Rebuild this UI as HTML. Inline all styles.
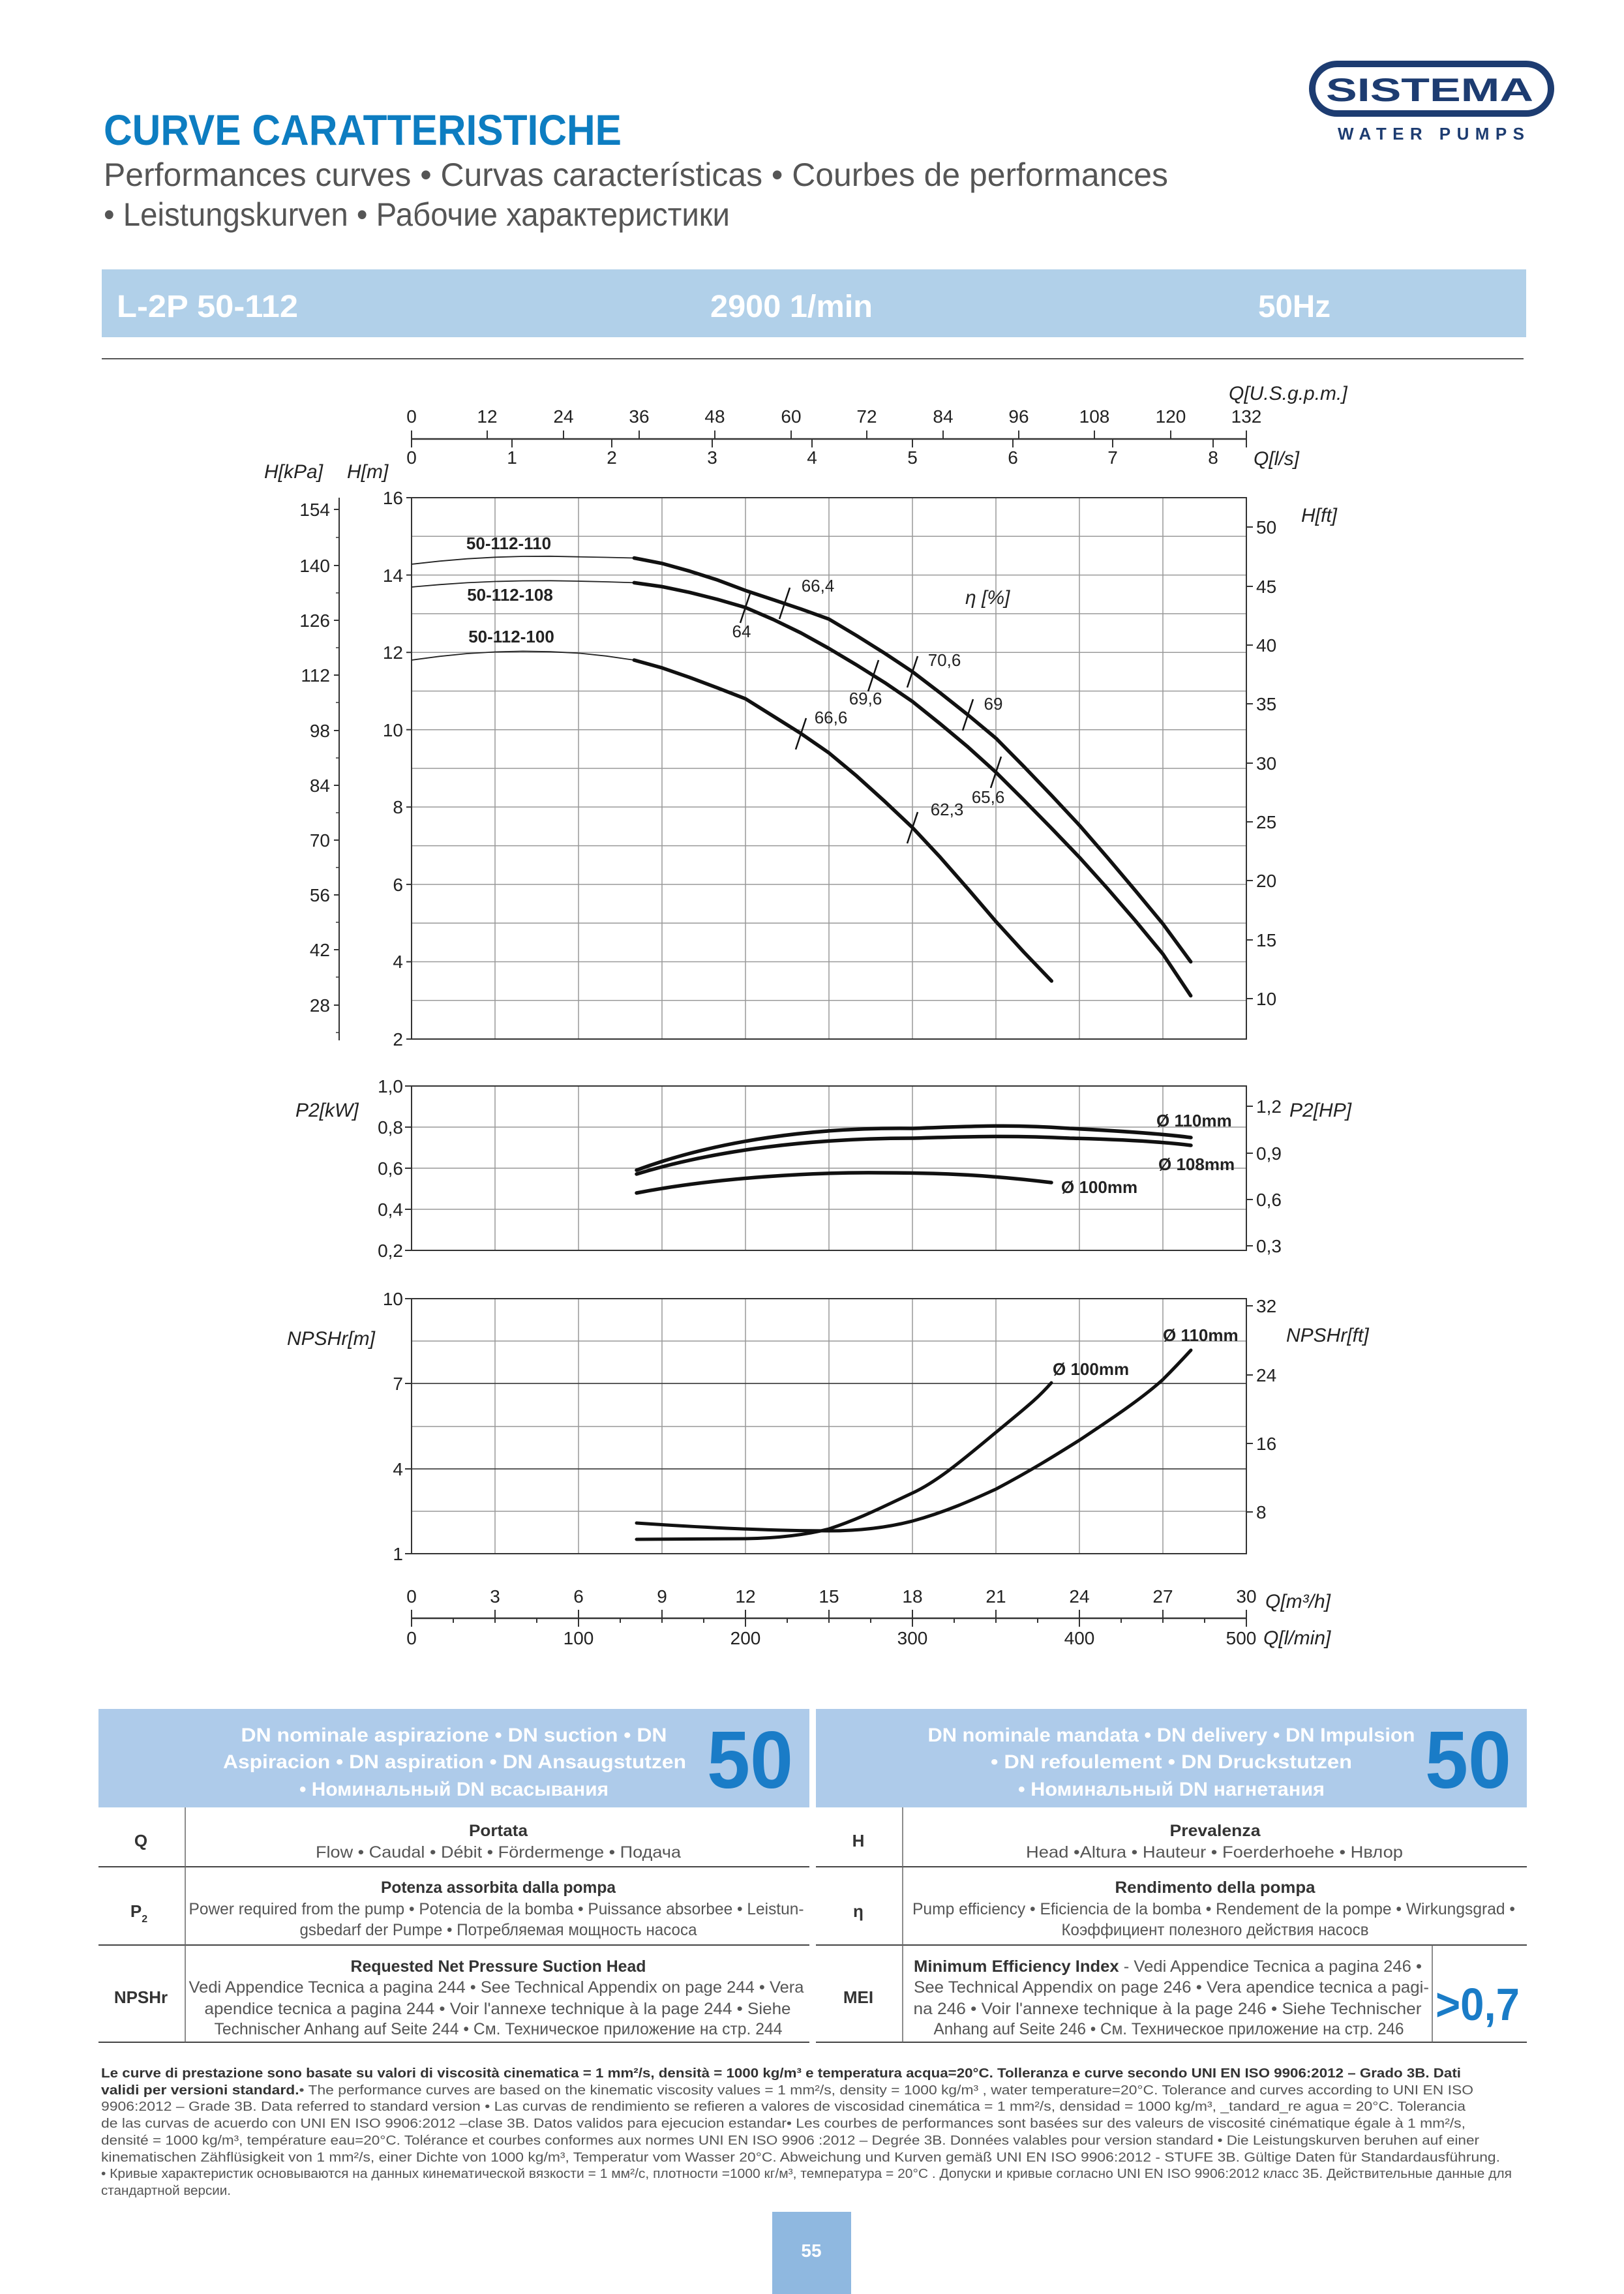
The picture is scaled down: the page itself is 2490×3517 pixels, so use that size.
<!DOCTYPE html>
<html><head><meta charset="utf-8"><style>
html,body{margin:0;padding:0;background:#fff;}
svg{display:block;}
</style></head><body>
<svg width="2490" height="3517" viewBox="0 0 2490 3517" xmlns="http://www.w3.org/2000/svg" font-family="'Liberation Sans', 'Noto Sans CJK SC', sans-serif">
<rect width="2490" height="3517" fill="#fff"/>
<!-- header -->
<text x="159" y="222" font-size="66" font-weight="bold" fill="#0d7dc1" textLength="794" lengthAdjust="spacingAndGlyphs">CURVE CARATTERISTICHE</text>
<text x="159" y="285" font-size="50" fill="#555" textLength="1632" lengthAdjust="spacingAndGlyphs">Performances curves • Curvas características • Courbes de performances</text>
<text x="159" y="346" font-size="50" fill="#555" textLength="960" lengthAdjust="spacingAndGlyphs">• Leistungskurven • Рабочие характеристики</text>
<rect x="2012" y="98" width="366" height="76" rx="38" fill="#fff" stroke="#1d3c71" stroke-width="10"/>
<text x="2033" y="155" font-size="50" font-weight="bold" fill="#1d3c71" textLength="318" lengthAdjust="spacingAndGlyphs">SISTEMA</text>
<text x="2051" y="214" font-size="26" font-weight="bold" fill="#1d3c71" textLength="286" lengthAdjust="spacing">WATER PUMPS</text>
<rect x="156" y="413" width="2184" height="104" fill="#b1d0e9"/>
<text x="179" y="486" font-size="48" font-weight="bold" fill="#fff" textLength="278" lengthAdjust="spacingAndGlyphs">L-2P 50-112</text>
<text x="1089" y="486" font-size="48" font-weight="bold" fill="#fff" textLength="249" lengthAdjust="spacingAndGlyphs">2900 1/min</text>
<text x="1929" y="486" font-size="48" font-weight="bold" fill="#fff" textLength="111" lengthAdjust="spacingAndGlyphs">50Hz</text>
<line x1="156" y1="550" x2="2336" y2="550" stroke="#555" stroke-width="2"/>

<!-- ===== MAIN H PLOT ===== -->
<g stroke="#999" stroke-width="1.5">
<line x1="759" y1="763" x2="759" y2="1593"/><line x1="887" y1="763" x2="887" y2="1593"/><line x1="1015" y1="763" x2="1015" y2="1593"/><line x1="1143" y1="763" x2="1143" y2="1593"/><line x1="1271" y1="763" x2="1271" y2="1593"/><line x1="1399" y1="763" x2="1399" y2="1593"/><line x1="1527" y1="763" x2="1527" y2="1593"/><line x1="1655" y1="763" x2="1655" y2="1593"/><line x1="1783" y1="763" x2="1783" y2="1593"/>
<line x1="631" y1="822.3" x2="1911" y2="822.3"/><line x1="631" y1="881.6" x2="1911" y2="881.6"/><line x1="631" y1="940.9" x2="1911" y2="940.9"/><line x1="631" y1="1000.2" x2="1911" y2="1000.2"/><line x1="631" y1="1059.5" x2="1911" y2="1059.5"/><line x1="631" y1="1118.7" x2="1911" y2="1118.7"/><line x1="631" y1="1178" x2="1911" y2="1178"/><line x1="631" y1="1237.3" x2="1911" y2="1237.3"/><line x1="631" y1="1296.6" x2="1911" y2="1296.6"/><line x1="631" y1="1355.9" x2="1911" y2="1355.9"/><line x1="631" y1="1415.2" x2="1911" y2="1415.2"/><line x1="631" y1="1474.5" x2="1911" y2="1474.5"/><line x1="631" y1="1533.8" x2="1911" y2="1533.8"/>
</g>
<rect x="631" y="763" width="1280" height="830" fill="none" stroke="#333" stroke-width="2"/>
<g stroke="#333" stroke-width="2">
<line x1="623" y1="763" x2="631" y2="763"/><line x1="623" y1="881.6" x2="631" y2="881.6"/><line x1="623" y1="1000.2" x2="631" y2="1000.2"/><line x1="623" y1="1118.7" x2="631" y2="1118.7"/><line x1="623" y1="1237.3" x2="631" y2="1237.3"/><line x1="623" y1="1355.9" x2="631" y2="1355.9"/><line x1="623" y1="1474.5" x2="631" y2="1474.5"/><line x1="623" y1="1593" x2="631" y2="1593"/>
</g>
<g font-size="28" fill="#222" text-anchor="end">
<text x="618" y="773">16</text><text x="618" y="892">14</text><text x="618" y="1010">12</text><text x="618" y="1129">10</text><text x="618" y="1247">8</text><text x="618" y="1366">6</text><text x="618" y="1484">4</text><text x="618" y="1603">2</text>
</g>
<line x1="520" y1="763" x2="520" y2="1595" stroke="#333" stroke-width="2"/>
<g stroke="#333" stroke-width="2">
<line x1="512" y1="781" x2="520" y2="781"/><line x1="512" y1="867" x2="520" y2="867"/><line x1="512" y1="951" x2="520" y2="951"/><line x1="512" y1="1035" x2="520" y2="1035"/><line x1="512" y1="1120" x2="520" y2="1120"/><line x1="512" y1="1204" x2="520" y2="1204"/><line x1="512" y1="1288" x2="520" y2="1288"/><line x1="512" y1="1372" x2="520" y2="1372"/><line x1="512" y1="1456" x2="520" y2="1456"/><line x1="512" y1="1541" x2="520" y2="1541"/>
</g>
<g stroke="#333" stroke-width="1.5">
<line x1="515" y1="824" x2="520" y2="824"/><line x1="515" y1="909" x2="520" y2="909"/><line x1="515" y1="993" x2="520" y2="993"/><line x1="515" y1="1077" x2="520" y2="1077"/><line x1="515" y1="1162" x2="520" y2="1162"/><line x1="515" y1="1246" x2="520" y2="1246"/><line x1="515" y1="1330" x2="520" y2="1330"/><line x1="515" y1="1414" x2="520" y2="1414"/><line x1="515" y1="1498" x2="520" y2="1498"/><line x1="515" y1="1583" x2="520" y2="1583"/>
</g>
<g font-size="28" fill="#222" text-anchor="end">
<text x="506" y="791">154</text><text x="506" y="877">140</text><text x="506" y="961">126</text><text x="506" y="1045">112</text><text x="506" y="1130">98</text><text x="506" y="1214">84</text><text x="506" y="1298">70</text><text x="506" y="1382">56</text><text x="506" y="1466">42</text><text x="506" y="1551">28</text>
</g>
<g stroke="#333" stroke-width="2">
<line x1="1911" y1="808" x2="1921" y2="808"/><line x1="1911" y1="899" x2="1921" y2="899"/><line x1="1911" y1="989" x2="1921" y2="989"/><line x1="1911" y1="1079" x2="1921" y2="1079"/><line x1="1911" y1="1170" x2="1921" y2="1170"/><line x1="1911" y1="1260" x2="1921" y2="1260"/><line x1="1911" y1="1350" x2="1921" y2="1350"/><line x1="1911" y1="1441" x2="1921" y2="1441"/><line x1="1911" y1="1531" x2="1921" y2="1531"/>
</g>
<g font-size="28" fill="#222">
<text x="1926" y="818">50</text><text x="1926" y="909">45</text><text x="1926" y="999">40</text><text x="1926" y="1089">35</text><text x="1926" y="1180">30</text><text x="1926" y="1270">25</text><text x="1926" y="1360">20</text><text x="1926" y="1451">15</text><text x="1926" y="1541">10</text>
</g>
<g font-size="30" font-style="italic" fill="#222">
<text x="1995" y="800">H[ft]</text>
<text x="405" y="733">H[kPa]</text>
<text x="532" y="733">H[m]</text>
<text x="1884" y="613">Q[U.S.g.p.m.]</text>
<text x="1922" y="713">Q[l/s]</text>
</g>
<line x1="631" y1="673" x2="1911" y2="673" stroke="#333" stroke-width="2.5"/>
<g stroke="#333" stroke-width="2">
<line x1="631" y1="660" x2="631" y2="686"/><line x1="747" y1="660" x2="747" y2="673"/><line x1="864" y1="660" x2="864" y2="673"/><line x1="980" y1="660" x2="980" y2="673"/><line x1="1096" y1="660" x2="1096" y2="673"/><line x1="1213" y1="660" x2="1213" y2="673"/><line x1="1329" y1="660" x2="1329" y2="673"/><line x1="1446" y1="660" x2="1446" y2="673"/><line x1="1562" y1="660" x2="1562" y2="673"/><line x1="1678" y1="660" x2="1678" y2="673"/><line x1="1795" y1="660" x2="1795" y2="673"/><line x1="1911" y1="660" x2="1911" y2="686"/>
<line x1="785" y1="673" x2="785" y2="686"/><line x1="938" y1="673" x2="938" y2="686"/><line x1="1092" y1="673" x2="1092" y2="686"/><line x1="1245" y1="673" x2="1245" y2="686"/><line x1="1399" y1="673" x2="1399" y2="686"/><line x1="1553" y1="673" x2="1553" y2="686"/><line x1="1706" y1="673" x2="1706" y2="686"/><line x1="1860" y1="673" x2="1860" y2="686"/>
</g>
<g font-size="28" fill="#222" text-anchor="middle">
<text x="631" y="648">0</text><text x="747" y="648">12</text><text x="864" y="648">24</text><text x="980" y="648">36</text><text x="1096" y="648">48</text><text x="1213" y="648">60</text><text x="1329" y="648">72</text><text x="1446" y="648">84</text><text x="1562" y="648">96</text><text x="1678" y="648">108</text><text x="1795" y="648">120</text><text x="1911" y="648">132</text>
<text x="631" y="711">0</text><text x="785" y="711">1</text><text x="938" y="711">2</text><text x="1092" y="711">3</text><text x="1245" y="711">4</text><text x="1399" y="711">5</text><text x="1553" y="711">6</text><text x="1706" y="711">7</text><text x="1860" y="711">8</text>
</g>
<!-- H curves thin -->
<g fill="none" stroke="#222" stroke-width="1.8" stroke-linejoin="round">
<polyline points="631,865 673.7,860.3 716.3,856.7 759,854.3 801.7,853 844.3,852.8 887,853.7 929.7,854.5 972.3,855.5"/>
<polyline points="631,900 673.7,896.3 716.3,893.4 759,891.5 801.7,890.5 844.3,890.3 887,891 929.7,892 972.3,893.4"/>
<polyline points="631,1012 673.7,1006.3 716.3,1002 759,999.5 801.7,998.4 844.3,999.2 887,1001.3 929.7,1005.8 972.3,1012"/>
</g>
<g fill="none" stroke="#111" stroke-width="5.5" stroke-linecap="round" stroke-linejoin="round">
<polyline points="972.3,855.5 1015,863.8 1057.7,875.7 1100.3,889.3 1143,905.3 1185.7,919.5 1228.3,933.8 1271,949.2 1313.7,974.7 1356.3,1001.4 1399,1029.8 1441.7,1062.4 1484.3,1096.2 1527,1131.8 1569.7,1175.1 1612.3,1219.5 1655,1265.2 1697.7,1314.4 1740.3,1364.8 1783,1416.4 1825.7,1474.5"/>
<polyline points="972.3,893.4 1015,899.4 1057.7,908.3 1100.3,919 1143,931.4 1185.7,949.8 1228.3,970.5 1271,994.2 1313.7,1019.7 1356.3,1046.4 1399,1075.5 1441.7,1109.8 1484.3,1145.4 1527,1184 1569.7,1226.6 1612.3,1269.9 1655,1314.4 1697.7,1361.8 1740.3,1411 1783,1462.6 1825.7,1526.6"/>
<polyline points="972.3,1012 1015,1023.9 1057.7,1038.7 1100.3,1054.7 1143,1071.3 1185.7,1098 1228.3,1124.7 1271,1154.3 1313.7,1189.9 1356.3,1228.4 1399,1268.7 1441.7,1314.4 1484.3,1363 1527,1412.8 1569.7,1459.6 1612.3,1504"/>
</g>
<g stroke="#111" stroke-width="2.5">
<line x1="1135" y1="955" x2="1151" y2="907"/>
<line x1="1195" y1="949" x2="1211" y2="901"/>
<line x1="1331" y1="1060" x2="1347" y2="1012"/>
<line x1="1391" y1="1054" x2="1407" y2="1006"/>
<line x1="1476" y1="1120" x2="1492" y2="1072"/>
<line x1="1519" y1="1208" x2="1535" y2="1160"/>
<line x1="1220" y1="1149" x2="1236" y2="1101"/>
<line x1="1391" y1="1293" x2="1407" y2="1245"/>
</g>
<g font-size="26" fill="#222" text-anchor="middle">
<text x="1254" y="907">66,4</text><text x="1137" y="977">64</text><text x="1448" y="1021">70,6</text><text x="1327" y="1080">69,6</text><text x="1523" y="1088">69</text><text x="1274" y="1109">66,6</text><text x="1515" y="1231">65,6</text><text x="1452" y="1250">62,3</text>
</g>
<text x="1480" y="926" font-size="30" font-style="italic" fill="#222">η [%]</text>
<g font-size="26" font-weight="bold" fill="#222" text-anchor="middle">
<text x="780" y="842">50-112-110</text><text x="782" y="921">50-112-108</text><text x="784" y="985">50-112-100</text>
</g>

<!-- ===== P2 PLOT ===== -->
<g stroke="#999" stroke-width="1.5">
<line x1="759" y1="1665" x2="759" y2="1917"/><line x1="887" y1="1665" x2="887" y2="1917"/><line x1="1015" y1="1665" x2="1015" y2="1917"/><line x1="1143" y1="1665" x2="1143" y2="1917"/><line x1="1271" y1="1665" x2="1271" y2="1917"/><line x1="1399" y1="1665" x2="1399" y2="1917"/><line x1="1527" y1="1665" x2="1527" y2="1917"/><line x1="1655" y1="1665" x2="1655" y2="1917"/><line x1="1783" y1="1665" x2="1783" y2="1917"/>
<line x1="631" y1="1728" x2="1911" y2="1728"/><line x1="631" y1="1791" x2="1911" y2="1791"/><line x1="631" y1="1854" x2="1911" y2="1854"/>
</g>
<rect x="631" y="1665" width="1280" height="252" fill="none" stroke="#333" stroke-width="2"/>
<g stroke="#333" stroke-width="2">
<line x1="621" y1="1665" x2="631" y2="1665"/><line x1="621" y1="1728" x2="631" y2="1728"/><line x1="621" y1="1791" x2="631" y2="1791"/><line x1="621" y1="1854" x2="631" y2="1854"/><line x1="621" y1="1917" x2="631" y2="1917"/>
<line x1="1911" y1="1696" x2="1921" y2="1696"/><line x1="1911" y1="1768" x2="1921" y2="1768"/><line x1="1911" y1="1839" x2="1921" y2="1839"/><line x1="1911" y1="1910" x2="1921" y2="1910"/>
</g>
<g font-size="28" fill="#222" text-anchor="end">
<text x="618" y="1675">1,0</text><text x="618" y="1738">0,8</text><text x="618" y="1801">0,6</text><text x="618" y="1864">0,4</text><text x="618" y="1927">0,2</text>
</g>
<g font-size="28" fill="#222">
<text x="1926" y="1706">1,2</text><text x="1926" y="1778">0,9</text><text x="1926" y="1849">0,6</text><text x="1926" y="1920">0,3</text>
</g>
<g font-size="30" font-style="italic" fill="#222">
<text x="453" y="1712">P2[kW]</text><text x="1977" y="1712">P2[HP]</text>
</g>
<g fill="none" stroke="#111" stroke-width="5.5" stroke-linecap="round">
<path d="M976,1794 C1100,1748 1250,1728 1400,1730 C1500,1726 1560,1724 1640,1730 C1720,1734 1780,1738 1826,1744"/>
<path d="M976,1800 C1100,1762 1250,1745 1400,1745 C1500,1742 1560,1741 1640,1745 C1720,1747 1780,1750 1826,1756"/>
<path d="M976,1829 C1100,1805 1250,1797 1350,1798 C1450,1798 1520,1802 1612,1813"/>
</g>
<g font-size="26" font-weight="bold" fill="#222">
<text x="1773" y="1727">Ø 110mm</text><text x="1776" y="1794">Ø 108mm</text><text x="1627" y="1829">Ø 100mm</text>
</g>

<!-- ===== NPSH PLOT ===== -->
<g stroke="#999" stroke-width="1.5">
<line x1="759" y1="1991" x2="759" y2="2382"/><line x1="887" y1="1991" x2="887" y2="2382"/><line x1="1015" y1="1991" x2="1015" y2="2382"/><line x1="1143" y1="1991" x2="1143" y2="2382"/><line x1="1271" y1="1991" x2="1271" y2="2382"/><line x1="1399" y1="1991" x2="1399" y2="2382"/><line x1="1527" y1="1991" x2="1527" y2="2382"/><line x1="1655" y1="1991" x2="1655" y2="2382"/><line x1="1783" y1="1991" x2="1783" y2="2382"/>
<line x1="631" y1="2056" x2="1911" y2="2056"/><line x1="631" y1="2187" x2="1911" y2="2187"/><line x1="631" y1="2317" x2="1911" y2="2317"/>
</g>
<g stroke="#444" stroke-width="1.8">
<line x1="631" y1="2121" x2="1911" y2="2121"/><line x1="631" y1="2252" x2="1911" y2="2252"/>
</g>
<rect x="631" y="1991" width="1280" height="391" fill="none" stroke="#333" stroke-width="2"/>
<g stroke="#333" stroke-width="2">
<line x1="621" y1="1991" x2="631" y2="1991"/><line x1="621" y1="2121" x2="631" y2="2121"/><line x1="621" y1="2252" x2="631" y2="2252"/><line x1="621" y1="2382" x2="631" y2="2382"/>
<line x1="1911" y1="2002" x2="1921" y2="2002"/><line x1="1911" y1="2108" x2="1921" y2="2108"/><line x1="1911" y1="2213" x2="1921" y2="2213"/><line x1="1911" y1="2318" x2="1921" y2="2318"/>
</g>
<g font-size="28" fill="#222" text-anchor="end">
<text x="618" y="2001">10</text><text x="618" y="2131">7</text><text x="618" y="2262">4</text><text x="618" y="2392">1</text>
</g>
<g font-size="28" fill="#222">
<text x="1926" y="2012">32</text><text x="1926" y="2118">24</text><text x="1926" y="2223">16</text><text x="1926" y="2328">8</text>
</g>
<g font-size="30" font-style="italic" fill="#222">
<text x="440" y="2062">NPSHr[m]</text><text x="1972" y="2057">NPSHr[ft]</text>
</g>
<g fill="none" stroke="#111" stroke-width="5" stroke-linecap="round">
<path d="M976,2360 L1143,2359 C1200,2358 1240,2352 1271,2344 C1310,2333 1340,2318 1370,2300 C1420,2265 1480,2215 1527,2165 C1560,2130 1590,2145 1612,2120" stroke="none"/>
<path d="M976,2360 L1143,2359 C1200,2358 1240,2352 1271,2344 C1320,2328 1360,2307 1399,2289 S1480,2235 1527,2196 S1590,2145 1612,2120"/>
<path d="M976,2335 C1080,2342 1180,2347 1271,2347 C1320,2347 1360,2342 1399,2332 C1450,2318 1490,2300 1527,2283 C1580,2255 1620,2230 1655,2208 C1700,2178 1750,2145 1783,2115 C1800,2098 1815,2082 1826,2070"/>
</g>
<g font-size="26" font-weight="bold" fill="#222">
<text x="1783" y="2056">Ø 110mm</text><text x="1614" y="2108">Ø 100mm</text>
</g>

<!-- bottom axis -->
<line x1="631" y1="2481" x2="1911" y2="2481" stroke="#333" stroke-width="2.5"/>
<g stroke="#333" stroke-width="2">
<line x1="631" y1="2468" x2="631" y2="2494"/><line x1="759" y1="2468" x2="759" y2="2481"/><line x1="887" y1="2468" x2="887" y2="2494"/><line x1="1015" y1="2468" x2="1015" y2="2481"/><line x1="1143" y1="2468" x2="1143" y2="2494"/><line x1="1271" y1="2468" x2="1271" y2="2481"/><line x1="1399" y1="2468" x2="1399" y2="2494"/><line x1="1527" y1="2468" x2="1527" y2="2481"/><line x1="1655" y1="2468" x2="1655" y2="2494"/><line x1="1783" y1="2468" x2="1783" y2="2481"/><line x1="1911" y1="2468" x2="1911" y2="2494"/>
<line x1="695" y1="2481" x2="695" y2="2488"/><line x1="759" y1="2481" x2="759" y2="2488"/><line x1="823" y1="2481" x2="823" y2="2488"/><line x1="951" y1="2481" x2="951" y2="2488"/><line x1="1015" y1="2481" x2="1015" y2="2488"/><line x1="1079" y1="2481" x2="1079" y2="2488"/><line x1="1207" y1="2481" x2="1207" y2="2488"/><line x1="1271" y1="2481" x2="1271" y2="2488"/><line x1="1335" y1="2481" x2="1335" y2="2488"/><line x1="1463" y1="2481" x2="1463" y2="2488"/><line x1="1527" y1="2481" x2="1527" y2="2488"/><line x1="1591" y1="2481" x2="1591" y2="2488"/><line x1="1719" y1="2481" x2="1719" y2="2488"/><line x1="1783" y1="2481" x2="1783" y2="2488"/><line x1="1847" y1="2481" x2="1847" y2="2488"/>
</g>
<g font-size="28" fill="#222" text-anchor="middle">
<text x="631" y="2457">0</text><text x="759" y="2457">3</text><text x="887" y="2457">6</text><text x="1015" y="2457">9</text><text x="1143" y="2457">12</text><text x="1271" y="2457">15</text><text x="1399" y="2457">18</text><text x="1527" y="2457">21</text><text x="1655" y="2457">24</text><text x="1783" y="2457">27</text><text x="1911" y="2457">30</text>
<text x="631" y="2521">0</text><text x="887" y="2521">100</text><text x="1143" y="2521">200</text><text x="1399" y="2521">300</text><text x="1655" y="2521">400</text><text x="1903" y="2521">500</text>
</g>
<g font-size="30" font-style="italic" fill="#222">
<text x="1940" y="2465">Q[m³/h]</text><text x="1937" y="2521">Q[l/min]</text>
</g>

<!-- ===== TABLE ===== -->
<rect x="151" y="2620" width="1090" height="151" fill="#aecbea"/>
<rect x="1251" y="2620" width="1090" height="151" fill="#aecbea"/>
<g font-size="30" font-weight="bold" fill="#fff" text-anchor="middle">
<text x="696" y="2670" textLength="653" lengthAdjust="spacingAndGlyphs">DN nominale aspirazione • DN suction • DN</text>
<text x="697" y="2711" textLength="710" lengthAdjust="spacingAndGlyphs">Aspiracion • DN aspiration • DN Ansaugstutzen</text>
<text x="696" y="2753" textLength="474" lengthAdjust="spacingAndGlyphs">• Номинальный DN всасывания</text>
<text x="1796" y="2670" textLength="747" lengthAdjust="spacingAndGlyphs">DN nominale mandata • DN delivery • DN Impulsion</text>
<text x="1796" y="2711" textLength="554" lengthAdjust="spacingAndGlyphs">• DN refoulement • DN Druckstutzen</text>
<text x="1796" y="2753" textLength="470" lengthAdjust="spacingAndGlyphs">• Номинальный DN нагнетания</text>
</g>
<text x="1084" y="2741" font-size="124" font-weight="bold" fill="#1a7cc7" textLength="132" lengthAdjust="spacingAndGlyphs">50</text>
<text x="2185" y="2741" font-size="124" font-weight="bold" fill="#1a7cc7" textLength="132" lengthAdjust="spacingAndGlyphs">50</text>
<g stroke="#444" stroke-width="2">
<line x1="151" y1="2862" x2="1241" y2="2862"/><line x1="151" y1="2982" x2="1241" y2="2982"/><line x1="151" y1="3131" x2="1241" y2="3131"/>
<line x1="1251" y1="2862" x2="2341" y2="2862"/><line x1="1251" y1="2982" x2="2341" y2="2982"/><line x1="1251" y1="3131" x2="2341" y2="3131"/>
</g>
<g stroke="#666" stroke-width="1.5">
<line x1="284" y1="2771" x2="284" y2="3131"/><line x1="1384" y1="2771" x2="1384" y2="3131"/><line x1="2196" y1="2982" x2="2196" y2="3131"/>
</g>
<g font-size="26" font-weight="bold" fill="#333" text-anchor="middle">
<text x="216" y="2831">Q</text><text x="1316" y="2831">H</text>
<text x="213" y="2939">P<tspan font-size="16" dy="8">2</tspan></text><text x="1316" y="2939">η</text>
<text x="216" y="3071">NPSHr</text><text x="1316" y="3071">MEI</text>
</g>
<g font-size="25" font-weight="bold" fill="#333" text-anchor="middle">
<text x="764" y="2815" textLength="90" lengthAdjust="spacingAndGlyphs">Portata</text>
<text x="1863" y="2815" textLength="139" lengthAdjust="spacingAndGlyphs">Prevalenza</text>
<text x="764" y="2902" textLength="360" lengthAdjust="spacingAndGlyphs">Potenza assorbita dalla pompa</text>
<text x="1863" y="2902" textLength="307" lengthAdjust="spacingAndGlyphs">Rendimento della pompa</text>
<text x="764" y="3023" textLength="453" lengthAdjust="spacingAndGlyphs">Requested Net Pressure Suction Head</text>
</g>
<g font-size="25" fill="#555" text-anchor="middle">
<text x="764" y="2848" textLength="560" lengthAdjust="spacingAndGlyphs">Flow • Caudal • Débit • Fördermenge • Подача</text>
<text x="1862" y="2848" textLength="578" lengthAdjust="spacingAndGlyphs">Head •Altura • Hauteur • Foerderhoehe • Нвлор</text>
<text x="761" y="2935" textLength="943" lengthAdjust="spacingAndGlyphs">Power required from the pump • Potencia de la bomba • Puissance absorbee • Leistun-</text>
<text x="764" y="2967" textLength="609" lengthAdjust="spacingAndGlyphs">gsbedarf der Pumpe • Потребляемая мощность насоса</text>
<text x="1861" y="2935" textLength="924" lengthAdjust="spacingAndGlyphs">Pump efficiency • Eficiencia de la bomba • Rendement de la pompe • Wirkungsgrad •</text>
<text x="1863" y="2967" textLength="471" lengthAdjust="spacingAndGlyphs">Коэффициент полезного действия насосв</text>
<text x="761" y="3055" textLength="943" lengthAdjust="spacingAndGlyphs">Vedi Appendice Tecnica a pagina 244 • See Technical Appendix on page 244 • Vera</text>
<text x="763" y="3088" textLength="899" lengthAdjust="spacingAndGlyphs">apendice tecnica a pagina  244 • Voir l'annexe technique à la page  244 • Siehe</text>
<text x="764" y="3119" textLength="871" lengthAdjust="spacingAndGlyphs">Technischer Anhang auf Seite  244 • См. Техническое приложение на стр. 244</text>
<text x="1796" y="3055" textLength="790" lengthAdjust="spacingAndGlyphs">See Technical Appendix on page 246 • Vera apendice tecnica a pagi-</text>
<text x="1790" y="3088" textLength="779" lengthAdjust="spacingAndGlyphs">na 246 • Voir l'annexe technique à la page 246 • Siehe Technischer</text>
<text x="1792" y="3119" textLength="721" lengthAdjust="spacingAndGlyphs">Anhang auf Seite 246 • См. Техническое приложение на стр. 246</text>
</g>
<text x="1401" y="3023" font-size="25" fill="#555" textLength="779" lengthAdjust="spacingAndGlyphs"><tspan font-weight="bold" fill="#333">Minimum Efficiency Index</tspan> - Vedi Appendice Tecnica a pagina 246 •</text>
<text x="2201" y="3097" font-size="70" font-weight="bold" fill="#1a7cc7" textLength="129" lengthAdjust="spacingAndGlyphs">&gt;0,7</text>

<!-- footnote -->
<g font-size="20" fill="#555">
<text x="155" y="3185" font-weight="bold" fill="#333" textLength="2085" lengthAdjust="spacingAndGlyphs">Le curve di prestazione sono basate su valori di viscosità cinematica = 1 mm²/s,  densità = 1000 kg/m³ e temperatura acqua=20°C. Tolleranza e curve secondo UNI EN ISO 9906:2012 – Grado 3B. Dati</text>
<text x="155" y="3211" textLength="2104" lengthAdjust="spacingAndGlyphs"><tspan font-weight="bold" fill="#333">validi per versioni standard.</tspan>• The performance curves are based on the kinematic viscosity values = 1 mm²/s, density = 1000 kg/m³ , water temperature=20°C. Tolerance and curves according to UNI EN ISO</text>
<text x="155" y="3236" textLength="2092" lengthAdjust="spacingAndGlyphs">9906:2012 – Grade 3B. Data referred to standard version • Las curvas de rendimiento se refieren a valores de viscosidad cinemática = 1 mm²/s,  densidad = 1000 kg/m³, _tandard_re agua = 20°C. Tolerancia</text>
<text x="155" y="3262" textLength="2092" lengthAdjust="spacingAndGlyphs">de las curvas de acuerdo con UNI EN ISO 9906:2012 –clase 3B. Datos validos para ejecucion estandar• Les courbes de performances sont basées sur des valeurs de viscosité cinématique égale à 1 mm²/s,</text>
<text x="155" y="3288" textLength="2113" lengthAdjust="spacingAndGlyphs">densité = 1000 kg/m³, température eau=20°C. Tolérance et courbes conformes aux normes UNI EN ISO 9906 :2012 – Degrée 3B. Données valables pour version standard • Die Leistungskurven beruhen auf einer</text>
<text x="155" y="3314" textLength="2145" lengthAdjust="spacingAndGlyphs">kinematischen Zähflüsigkeit von 1 mm²/s, einer Dichte von 1000 kg/m³, Temperatur vom Wasser 20°C. Abweichung und Kurven gemäß UNI EN ISO 9906:2012 - STUFE 3B. Gültige Daten für Standardausführung.</text>
<text x="155" y="3339" textLength="2163" lengthAdjust="spacingAndGlyphs">•  Кривые характеристик основываются на данных кинематической вязкости = 1 мм²/с, плотности =1000 кг/м³, температура = 20°С . Допуски и кривые согласно UNI EN ISO 9906:2012 класс 3Б. Действительные данные для</text>
<text x="155" y="3365" textLength="199" lengthAdjust="spacingAndGlyphs">стандартной версии.</text>
</g>
<rect x="1184" y="3391" width="121" height="126" fill="#8fb8e0"/>
<text x="1244" y="3460" font-size="28" font-weight="bold" fill="#fff" text-anchor="middle">55</text>
</svg>
</body></html>
